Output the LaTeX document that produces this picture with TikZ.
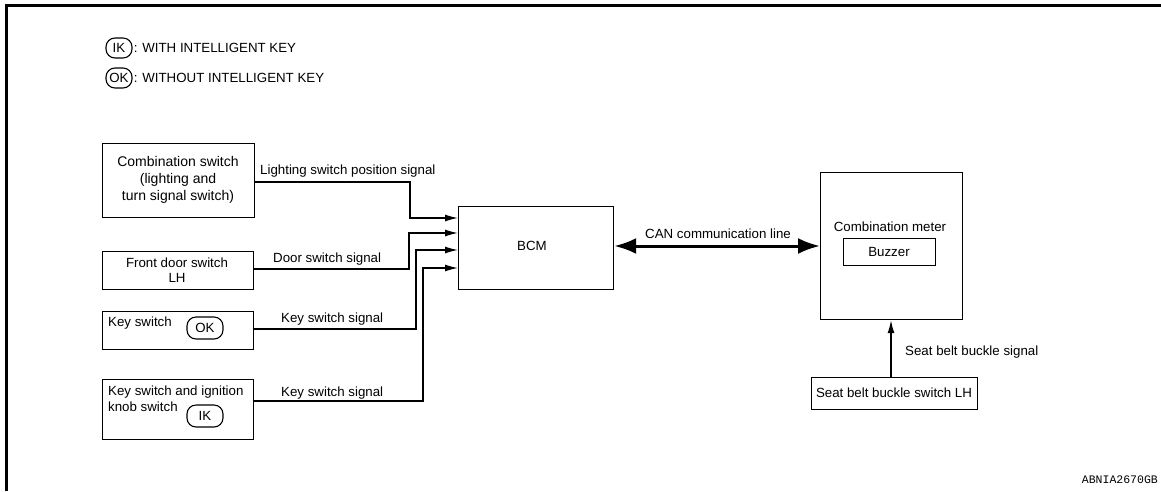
\documentclass[tikz,border=0pt]{standalone}
\usepackage{fontspec}
\setmainfont{Liberation Sans}
\newfontfamily\codefont{Liberation Mono}
\usetikzlibrary{arrows.meta}
\tikzset{
  txt/.style={font=\fontsize{13.3}{15.5}\selectfont, inner sep=0pt},
  box/.style={draw, line width=1.2pt, anchor=north west, inner sep=0pt},
  oval/.style={draw, line width=1.1pt, rounded corners=9pt, inner sep=0pt, font=\fontsize{13.3}{15.5}\selectfont},
  arr/.style={line width=1.3pt, -{Latex[length=13pt,width=7pt]}},
}
\begin{document}
\begin{tikzpicture}[x=1pt,y=-1pt]
\useasboundingbox (0,0) rectangle (1161,491);
% frame
\draw[line width=3pt] (6,491) -- (6,5.5) -- (1161,5.5);
% legend
\node[oval, minimum width=26pt, minimum height=20pt] (lgik) at (119,48) {IK};
\node[txt, anchor=west] (lgiktxt) at ([xshift=1pt]lgik.east) {: WITH INTELLIGENT KEY};
\node[oval, minimum width=26pt, minimum height=20pt] (lgok) at (119,78) {OK};
\node[txt, anchor=west] (lgoktxt) at ([xshift=1pt]lgok.east) {: WITHOUT INTELLIGENT KEY};
% left boxes
\node[box, minimum width=152pt, minimum height=74pt] (cs) at (102,143) {};
\node[txt, align=center, font=\fontsize{14}{17}\selectfont] (cstxt) at (178,180) {Combination switch\\(lighting and\\turn signal switch)};
\node[box, minimum width=151pt, minimum height=38pt] (door) at (102,251) {};
\node[txt, align=center] (doortxt) at (177,270) {Front door switch\\LH};
\node[box, minimum width=151pt, minimum height=38pt] (key) at (102,311) {};
\node[txt, anchor=west] (keytxt) at (108,323) {Key switch};
\node[oval, minimum width=36pt, minimum height=22pt] (keyok) at (205,328) {OK};
\node[box, minimum width=151pt, minimum height=60pt] (ign) at (102,379) {};
\node[txt, anchor=north west, align=left] (igntxt) at (108,386) {Key switch and ignition\\knob switch};
\node[oval, minimum width=36pt, minimum height=22pt] (ignik) at (205,416) {IK};
% BCM
\node[box, minimum width=155pt, minimum height=83pt] (bcm) at (458,206) {};
\node[txt] (bcmtxt) at (532,246) {BCM};
% combination meter
\node[box, minimum width=142pt, minimum height=147pt] (cm) at (820,172) {};
\node[txt] (cmtxt) at (890,227) {Combination meter};
\node[box, minimum width=92pt, minimum height=27pt] (buz) at (843,238) {};
\node[txt] (buztxt) at (889,252) {Buzzer};
% seat belt switch
\node[box, minimum width=166pt, minimum height=32pt] (sb) at (811,377) {};
\node[txt] (sbtxt) at (894,393) {Seat belt buckle switch LH};
% connectors
\draw[arr] (cs.east |- 0,182) -| (410,218) -- (bcm.west |- 0,218);
\draw[arr] (door.east |- 0,269) -| (409,233) -- (bcm.west |- 0,233);
\draw[arr] (key.east |- 0,329) -| (416,250) -- (bcm.west |- 0,250);
\draw[arr] (ign.east |- 0,401) -| (423,268) -- (bcm.west |- 0,268);
\draw[line width=3pt, {Latex[length=22pt,width=16pt]}-{Latex[length=22pt,width=16pt]}] (bcm.east |- 0,246) -- (cm.west |- 0,246);
\draw[arr] (sb.north -| 891,0) -- (cm.south -| 891,0);
% labels
\node[txt, anchor=west] (l1) at (260,171) {Lighting switch position signal};
\node[txt, anchor=west] (l2) at (273,259) {Door switch signal};
\node[txt, anchor=west] (l3) at (281,319) {Key switch signal};
\node[txt, anchor=west] (l4) at (281,393) {Key switch signal};
\node[txt, anchor=west] (l5) at (645,234) {CAN communication line};
\node[txt, anchor=west] (l6) at (905,352) {Seat belt buckle signal};
\node[inner sep=0pt, anchor=east, font=\codefont\fontsize{11.5}{13}\selectfont] (code) at (1158,480) {ABNIA2670GB};
\end{tikzpicture}
\end{document}
